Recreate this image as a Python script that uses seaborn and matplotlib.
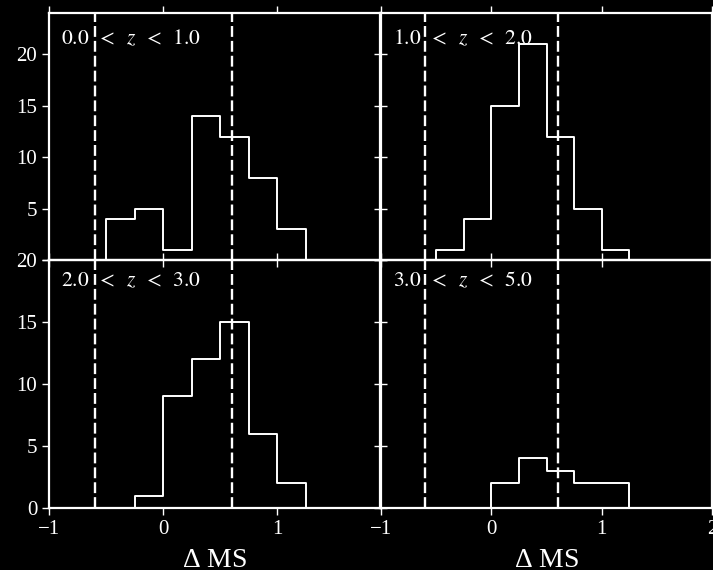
import numpy as np
import pandas as pd
import matplotlib
matplotlib.use("Agg")
import matplotlib.pyplot as plt
import seaborn as sns

# ---- data ----
panel_labels = [r"$0.0\ \:<\ \:z\ \:<\ \:1.0$", r"$1.0\ \:<\ \:z\ \:<\ \:2.0$",
                r"$2.0\ \:<\ \:z\ \:<\ \:3.0$", r"$3.0\ \:<\ \:z\ \:<\ \:5.0$"]
edges_p1 = [-0.5, -0.25, 0.0, 0.25, 0.5, 0.75, 1.0, 1.25]
counts_p1 = [4, 5, 1, 14, 12, 8, 3]
edges_p2 = [-0.5, -0.25, 0.0, 0.25, 0.5, 0.75, 1.0, 1.25]
counts_p2 = [1, 4, 15, 21, 12, 5, 1]
edges_p3 = [-0.25, 0.0, 0.25, 0.5, 0.75, 1.0, 1.25]
counts_p3 = [1, 9, 12, 15, 6, 2]
edges_p4 = [0.0, 0.25, 0.5, 0.75, 1.0, 1.25]
counts_p4 = [2, 4, 3, 2, 2]
ms_bounds = [-0.6, 0.6]
xlabel_text = r"$\Delta$ MS"

sns.set_theme(style="dark")
plt.rcParams.update({
    "font.family": ["Liberation Serif", "DejaVu Serif"],
    "mathtext.fontset": "custom",
    "mathtext.rm": "Liberation Serif",
    "mathtext.it": "Liberation Serif:italic",
    "mathtext.bf": "Liberation Serif:bold",
    "axes.unicode_minus": True,
    "figure.facecolor": "black",
    "savefig.facecolor": "black",
    "axes.facecolor": "none",
    "axes.edgecolor": "white",
    "axes.linewidth": 1.5,
    "xtick.color": "white",
    "ytick.color": "white",
    "text.color": "white",
    "axes.labelcolor": "white",
    "axes.grid": False,
})

W, H = 713, 570
fig = plt.figure(figsize=(W / 100, H / 100), dpi=100)

def rect(x0, y0, x1, y1):
    return [x0 / W, 1 - y1 / H, (x1 - x0) / W, (y1 - y0) / H]

axes = [
    fig.add_axes(rect(49, 13, 380, 260)),
    fig.add_axes(rect(381, 13, 712, 260)),
    fig.add_axes(rect(49, 260, 380, 508)),
    fig.add_axes(rect(381, 260, 712, 508)),
]

data = [(edges_p1, counts_p1), (edges_p2, counts_p2),
        (edges_p3, counts_p3), (edges_p4, counts_p4)]
label_y = [0.875, 0.875, 0.896, 0.896]

for i, (ax, (edges, counts)) in enumerate(zip(axes, data)):
    edges = [float(e) for e in edges]
    w = edges[1] - edges[0]
    padded = [edges[0] - w] + edges + [edges[-1] + w]
    centers = [(a + b) / 2 for a, b in zip(padded[:-1], padded[1:])]
    weights = [0] + list(counts) + [0]
    df = pd.DataFrame({"x": centers, "w": weights})
    sns.histplot(data=df, x="x", weights="w", bins=padded, element="step",
                 fill=False, color="white", linewidth=1.4, ax=ax)
    for b in ms_bounds:
        ax.axvline(b, color="white", lw=1.7, dashes=(4.6, 1.7))
    top = i < 2
    left = i % 2 == 0
    ax.set_xlim(-1, 1.9 if left else 2)
    ax.set_ylim(0, 24 if top else 20)
    ax.set_xticks([-1, 0, 1] if left else [-1, 0, 1, 2])
    ax.set_yticks([0, 5, 10, 15, 20])
    ax.tick_params(direction="out", length=5, width=1.0, labelsize=15,
                   top=True, right=True, bottom=True, left=True,
                   labelbottom=not top, labelleft=left, pad=3.5,
                   colors="white")
    if top and left:
        ax.set_yticklabels(["", "5", "10", "15", "20"])
    ax.set_ylabel("")
    if top:
        ax.set_xlabel("")
    else:
        ax.set_xlabel(xlabel_text, fontsize=20)
        ax.xaxis.label.set_va("baseline")
        ax.xaxis.set_label_coords(0.5, -0.238)
    for s in ax.spines.values():
        s.set_visible(True)
        s.set_color("white")
        s.set_linewidth(1.6)
    ax.text(0.036, label_y[i], panel_labels[i], transform=ax.transAxes,
            fontsize=15.5, va="baseline", ha="left", color="white",
            math_fontfamily="stix")

fig.savefig("out.png", dpi=100, facecolor="black")
